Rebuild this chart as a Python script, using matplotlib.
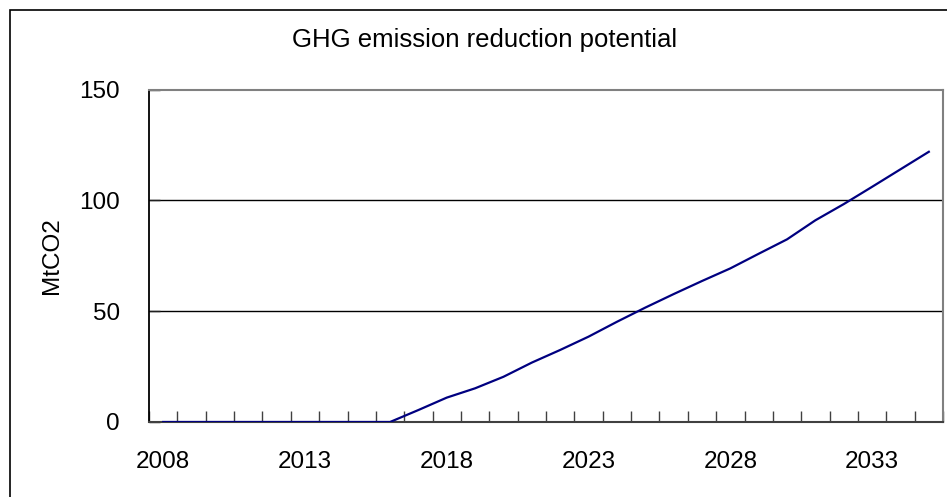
import numpy as np
import matplotlib
matplotlib.use('agg')
import matplotlib.pyplot as plt
from matplotlib.patches import Rectangle

plt.rcParams['font.family'] = ['Liberation Sans', 'DejaVu Sans']

years = list(range(2008, 2036))
reduction = [0, 0, 0, 0, 0, 0, 0, 0, 0,
             5.4, 11.0, 15.2, 20.4, 26.8, 32.5, 38.5, 45.2, 51.6,
             57.7, 63.6, 69.3, 75.9, 82.4, 91.0, 98.3, 106.1, 114.0, 121.9]
yticks = [0, 50, 100, 150]
label_years = [2008, 2013, 2018, 2023, 2028, 2033]

W, H = 947, 497
fig = plt.figure(figsize=(W / 100, H / 100), dpi=100)
ax = fig.add_axes([149 / W, 1 - 422 / H, (943 - 149) / W, (422 - 89.5) / H])

x = np.arange(len(years))
ax.plot(x, reduction, color='#000080', lw=1.6, zorder=3)

ax.set_xlim(-0.5, len(years) - 0.5)
ax.set_ylim(0, 150)

# category boundaries get the tick marks, labels sit on category centres
ax.set_xticks(np.arange(-0.5, len(years), 1))
ax.set_xticklabels([])
ax.tick_params(axis='x', which='major', direction='in', length=8, width=1,
               color='#404040')
ax.set_xticks([years.index(y) for y in label_years], minor=True)
ax.set_xticklabels([str(y) for y in label_years], minor=True)
ax.tick_params(axis='x', which='minor', length=0, pad=21, labelsize=17.5)

ax.set_yticks(yticks)
ax.tick_params(axis='y', direction='in', length=8, width=1, color='#202020',
               pad=21, labelsize=17.5)
for v in yticks[1:-1]:
    ax.axhline(v, color='#000000', lw=1, zorder=1)

ax.spines['left'].set_color('#000000')
ax.spines['left'].set_linewidth(1.3)
ax.spines['bottom'].set_color('#404040')
ax.spines['bottom'].set_linewidth(1.5)
ax.spines['top'].set_color('#808080')
ax.spines['top'].set_linewidth(1.5)
ax.spines['right'].set_color('#808080')
ax.spines['right'].set_linewidth(1.5)

ax.set_ylabel('MtCO2', fontsize=17.5)
ax.yaxis.set_label_coords(63 / W, 1 - 256 / H, transform=fig.transFigure)

fig.text(485 / W, 1 - 40 / H, 'GHG emission reduction potential',
         ha='center', va='center', fontsize=18.5)

fig.patches.append(Rectangle((10 / W, -0.1), 2, 1 - 10 / H + 0.1,
                             transform=fig.transFigure, fill=False,
                             edgecolor='black', lw=1.2))

fig.savefig('out.png', dpi=100)
